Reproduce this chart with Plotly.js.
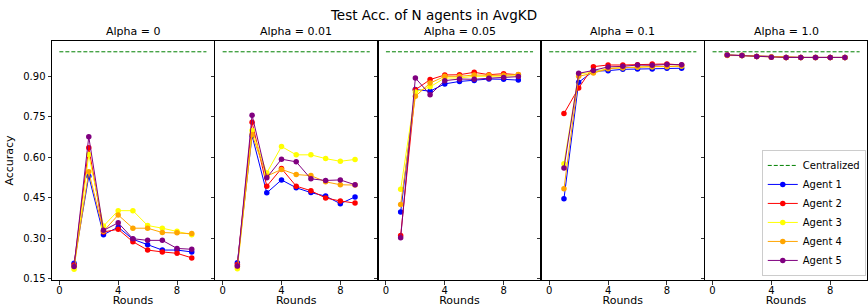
<!DOCTYPE html>
<html>
<head>
<meta charset="utf-8">
<script src="https://cdn.plot.ly/plotly-3.0.1.min.js"></script>
<style>html,body{margin:0;padding:0;background:#fff;}#chart{width:868px;height:307px;}</style>
</head>
<body>
<div id="chart"></div>
<script>
const rounds = [1,2,3,4,5,6,7,8,9];
const alphaLabels = ["Alpha = 0","Alpha = 0.01","Alpha = 0.05","Alpha = 0.1","Alpha = 1.0"];
const agentNames = ["Agent 1","Agent 2","Agent 3","Agent 4","Agent 5"];
const agentColors = ["#0000ff","#ff0000","#ffff00","#ffa500","#800080"];
const centralizedX = [0,10];
const centralizedAcc = 0.991;

// accuracy per panel (alpha), per agent, per round
const acc_alpha0 = [
  [0.207,0.530,0.313,0.341,0.296,0.276,0.256,0.256,0.249],
  [0.201,0.635,0.323,0.333,0.287,0.256,0.249,0.244,0.227],
  [0.185,0.610,0.345,0.402,0.402,0.347,0.337,0.326,0.313],
  [0.195,0.546,0.326,0.386,0.337,0.337,0.321,0.320,0.317],
  [0.195,0.676,0.329,0.357,0.298,0.292,0.292,0.262,0.259]
];
const acc_alpha001 = [
  [0.209,0.680,0.468,0.516,0.487,0.469,0.456,0.428,0.453],
  [0.202,0.730,0.493,0.558,0.493,0.476,0.449,0.438,0.430],
  [0.187,0.699,0.542,0.640,0.609,0.609,0.595,0.585,0.592],
  [0.195,0.684,0.530,0.555,0.536,0.532,0.509,0.498,0.497],
  [0.197,0.756,0.524,0.593,0.583,0.520,0.514,0.516,0.498]
];
const acc_alpha005 = [
  [0.397,0.851,0.845,0.872,0.881,0.885,0.890,0.889,0.886],
  [0.310,0.850,0.888,0.905,0.906,0.915,0.906,0.910,0.906],
  [0.481,0.842,0.861,0.894,0.894,0.900,0.900,0.900,0.902],
  [0.425,0.826,0.875,0.900,0.900,0.905,0.904,0.904,0.907],
  [0.302,0.894,0.832,0.884,0.890,0.889,0.893,0.896,0.899]
];
const acc_alpha01 = [
  [0.446,0.878,0.919,0.921,0.926,0.927,0.927,0.930,0.930],
  [0.762,0.857,0.936,0.942,0.942,0.943,0.946,0.946,0.942],
  [0.576,0.909,0.915,0.930,0.932,0.935,0.936,0.937,0.938],
  [0.483,0.900,0.912,0.928,0.932,0.935,0.936,0.936,0.938],
  [0.560,0.911,0.922,0.935,0.937,0.942,0.941,0.944,0.943]
];
const acc_alpha1 = [
  [0.979,0.977,0.974,0.972,0.970,0.970,0.970,0.970,0.970],
  [0.979,0.977,0.974,0.972,0.970,0.970,0.970,0.970,0.970],
  [0.979,0.977,0.974,0.972,0.970,0.970,0.970,0.970,0.970],
  [0.977,0.977,0.974,0.971,0.970,0.970,0.970,0.970,0.970],
  [0.979,0.977,0.974,0.971,0.970,0.970,0.970,0.970,0.970]
];
const yTicks = [0.15,0.30,0.45,0.60,0.75,0.90];
const xTicks = [0,4,8];

const panels = [acc_alpha0, acc_alpha001, acc_alpha005, acc_alpha01, acc_alpha1];
const traces = [];
panels.forEach((panel, p) => {
  const xa = p === 0 ? 'x' : 'x' + (p+1);
  const ya = p === 0 ? 'y' : 'y' + (p+1);
  traces.push({
    x: centralizedX, y: [centralizedAcc, centralizedAcc], xaxis: xa, yaxis: ya,
    mode: 'lines', name: 'Centralized', legendgroup: 'c', showlegend: p === 0,
    line: {color: '#008000', width: 1, dash: '4px,2px'}, hoverinfo: 'skip'
  });
  panel.forEach((vals, a) => {
    traces.push({
      x: rounds, y: vals, xaxis: xa, yaxis: ya, mode: 'lines+markers',
      name: agentNames[a], legendgroup: 'a' + a, showlegend: p === 0,
      line: {color: agentColors[a], width: 1},
      marker: {color: agentColors[a], size: 5.5}
    });
  });
});

const totalW = 815, gapPx = 1.5;
const w = (totalW - 4*gapPx) / 5;
const layout = {
  width: 868, height: 307,
  margin: {l: 52, r: 1, t: 41, b: 27},
  paper_bgcolor: '#fff', plot_bgcolor: '#fff',
  font: {family: 'DejaVu Sans', size: 10, color: '#000'},
  title: {text: 'Test Acc. of N agents in AvgKD', x: 0.5, xref: 'container', y: 1 - 15/307, yref: 'container', yanchor: 'middle', font: {size: 13.5, family: 'DejaVu Sans', color: '#000'}},
  showlegend: true,
  legend: {x: 0.9985, xanchor: 'right', y: 0.017, yanchor: 'bottom', bgcolor: 'rgba(255,255,255,0.85)', bordercolor: '#cccccc', borderwidth: 1, font: {size: 10, family: 'DejaVu Sans'}, tracegroupgap: 0, itemwidth: 30},
  annotations: [],
  hovermode: false
};
for (let p = 0; p < 5; p++) {
  const s = p === 0 ? '' : String(p+1);
  const d0 = (p*(w+gapPx))/totalW, d1 = (p*(w+gapPx)+w)/totalW;
  layout['xaxis' + s] = {
    domain: [d0, Math.min(d1,1)], anchor: 'y' + s, range: [-0.5, 10.5],
    tickvals: xTicks, ticktext: xTicks.map(String), ticks: 'outside', ticklen: 3.5, tickwidth: 0.8, tickcolor: '#000',
    ticklabelstandoff: -3,
    showline: true, linecolor: '#000', linewidth: 1, mirror: true, showgrid: false, zeroline: false,
    tickfont: {size: 10},
    title: {text: 'Rounds', font: {size: 11}, standoff: 5}
  };
  layout['yaxis' + s] = {
    anchor: 'x' + s, domain: [0,1], range: [0.145, 1.031],
    tickvals: yTicks, ticktext: yTicks.map(v => v.toFixed(2)), ticks: 'outside', ticklen: 3.5, tickwidth: 0.8, tickcolor: '#000',
    showticklabels: p === 0,
    showline: true, linecolor: '#000', linewidth: 1, mirror: true, showgrid: false, zeroline: false,
    tickfont: {size: 10},
    title: p === 0 ? {text: 'Accuracy', font: {size: 11}, standoff: 7} : {text: ''}
  };
  layout.annotations.push({
    text: alphaLabels[p], xref: 'paper', yref: 'paper', x: (d0+d1)/2, y: 1, xanchor: 'center', yanchor: 'bottom',
    yshift: 1, showarrow: false, font: {size: 11, family: 'DejaVu Sans', color: '#000'}
  });
}
Plotly.newPlot('chart', traces, layout, {displayModeBar: false, staticPlot: true});
</script>
</body>
</html>
